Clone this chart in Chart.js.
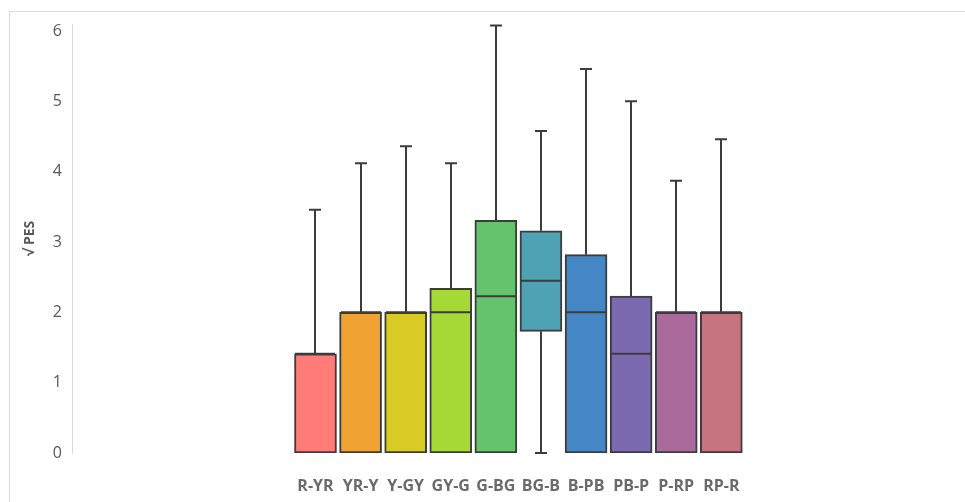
<!DOCTYPE html>
<html>
<head>
<meta charset="utf-8">
<script src="https://cdn.jsdelivr.net/npm/chart.js@4"></script>
<style>
  html, body { margin: 0; padding: 0; background: #fff; }
  #wrap { position: relative; width: 965px; height: 502px; }
  #frame { position: absolute; left: 9px; top: 11px; right: 0; bottom: 0;
           border-left: 1px solid #d9d9d9; border-top: 1px solid #d9d9d9; }
  canvas { position: absolute; left: 0; top: 0; }
</style>
</head>
<body>
<div id="wrap">
  <div id="frame"></div>
  <canvas id="mycanvas" width="965" height="502"></canvas>
</div>
<script>
// hue pairs
var labels  = ['R-YR', 'YR-Y', 'Y-GY', 'GY-G', 'G-BG', 'BG-B', 'B-PB', 'PB-P', 'P-RP', 'RP-R'];
var mins    = [0, 0, 0, 0, 0, 0, 0, 0, 0, 0];
var q1s     = [0, 0, 0, 0, 0, 1.73, 0, 0, 0, 0];
var medians = [1.41, 2, 2, 2, 2.23, 2.45, 2, 1.41, 2, 2];
var q3s     = [1.41, 2, 2, 2.34, 3.31, 3.16, 2.82, 2.23, 2, 2];
var maxs    = [3.46, 4.12, 4.36, 4.12, 6.08, 4.58, 5.46, 5.0, 3.87, 4.46];
var colors  = ['#FF7C78', '#F0A232', '#D9CB26', '#A5D935', '#64C36C',
               '#4FA2B3', '#4587C5', '#7B6AAF', '#AA6A9C', '#C67580'];

var yTicks = [0, 1, 2, 3, 4, 5, 6];

var boxData = [];
for (var i in labels) {
	boxData.push({x: Number(i) + 1, y: [q1s[i], q3s[i]]});
}

var lineColor = '#3c3c3c';

// medians and whiskers
var whiskers = {
	id: 'whiskers',
	afterDatasetsDraw: function(chart) {
		var ctx = chart.ctx;
		var xs = chart.scales.x, ys = chart.scales.y;
		var half = 20, cap = 6;
		ctx.save();
		ctx.strokeStyle = lineColor;
		ctx.lineWidth = 2;
		for (var i = 0; i < labels.length; i++) {
			var x = Math.round(xs.getPixelForValue(i + 1));
			var yTop = ys.getPixelForValue(q3s[i]);
			var yBot = ys.getPixelForValue(q1s[i]);
			var yMax = ys.getPixelForValue(maxs[i]);
			var yMin = ys.getPixelForValue(mins[i]);
			var yMed = ys.getPixelForValue(medians[i]);
			ctx.beginPath();
			ctx.moveTo(x, yTop); ctx.lineTo(x, yMax);
			ctx.moveTo(x - cap, yMax); ctx.lineTo(x + cap, yMax);
			if (mins[i] < q1s[i]) {
				ctx.moveTo(x, yBot); ctx.lineTo(x, yMin);
				ctx.moveTo(x - cap, yMin); ctx.lineTo(x + cap, yMin);
			}
			ctx.moveTo(x - half, yMed); ctx.lineTo(x + half, yMed);
			ctx.stroke();
		}
		ctx.restore();
	}
};

var ctx = document.getElementById('mycanvas');

var boxChart = new Chart(ctx, {
	type: 'bar',
	data: {
		datasets: [{
			data: boxData,
			backgroundColor: colors,
			borderColor: lineColor,
			borderWidth: 2,
			borderSkipped: false,
			barThickness: 42
		}]
	},
	options: {
		responsive: false,
		animation: false,
		layout: { padding: { left: 0, top: 24, right: 25, bottom: 0 } },
		plugins: { legend: { display: false }, tooltip: { enabled: false } },
		scales: {
			x: {
				type: 'linear',
				offset: false,
				min: -4.40,
				max: 14.85,
				grid: { display: false, drawTicks: false },
				border: { display: false },
				afterBuildTicks: function(scale) {
					scale.ticks = labels.map(function(l, i) { return {value: i + 1}; });
				},
				afterFit: function(scale) { scale.height = 49; },
				ticks: {
					autoSkip: false,
					maxRotation: 0,
					padding: 24,
					color: '#6a6a6a',
					font: { family: 'Open Sans', size: 16, weight: 'bold' },
					callback: function(v) { return labels[v - 1]; }
				}
			},
			y: {
				min: 0,
				max: 6.1,
				grid: { display: false, drawTicks: false },
				border: { display: true, color: '#d9d9d9', width: 1 },
				afterBuildTicks: function(scale) {
					scale.ticks = yTicks.map(function(v) { return {value: v}; });
				},
				afterFit: function(scale) { scale.width = 72; },
				ticks: {
					padding: 10,
					color: '#595959',
					font: { family: 'Open Sans', size: 16 }
				},
				title: {
					display: true,
					text: '√ PES',
					color: '#595959',
					padding: { top: 22, bottom: 0 },
					font: { family: 'Open Sans', size: 14, weight: 'bold' }
				}
			}
		}
	},
	plugins: [whiskers]
});
</script>
</body>
</html>
